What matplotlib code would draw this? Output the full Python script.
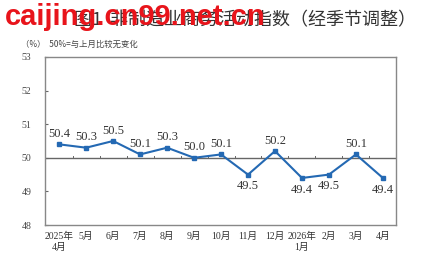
import matplotlib
matplotlib.use("Agg")
import matplotlib.pyplot as plt

plt.rcParams['font.family'] = ['Liberation Serif', 'Noto Sans CJK SC', 'DejaVu Sans']

# monthly index values
months = ["2025年\n4月", "5月", "6月", "7月", "8月", "9月", "10月", "11月", "12月",
          "2026年\n1月", "2月", "3月", "4月"]
values = [50.4, 50.3, 50.5, 50.1, 50.3, 50.0, 50.1, 49.5, 50.2, 49.4, 49.5, 50.1, 49.4]
yticks = [48, 49, 50, 51, 52, 53]

fig = plt.figure(figsize=(4.22, 2.66), dpi=100)
ax = fig.add_axes([0.107, 0.154, 0.831, 0.632])

x = list(range(len(values)))
ax.axhline(50, color="#666666", lw=1.0, zorder=1)
ax.plot(x, values, color="#2469b3", lw=1.5, marker="s", ms=3.5, zorder=3)

# little tick marks on the 50 line, between months
for i in range(len(values) - 1):
    ax.plot([i + 0.5, i + 0.5], [50, 50.06], color="#666666", lw=0.7, zorder=2)

for i, v in enumerate(values):
    if v < 50:
        ax.text(i, v - 0.17, f"{v:.1f}", ha="center", va="top", fontsize=9, color="#333333")
    else:
        ax.text(i, v + 0.13, f"{v:.1f}", ha="center", va="bottom", fontsize=9, color="#333333")

ax.set_xlim(-0.52, 12.48)
ax.set_ylim(48, 53)
ax.set_yticks(yticks)
ax.set_yticklabels([str(t) for t in yticks], fontsize=7, color="#444444")
ax.tick_params(axis="y", direction="in", length=2, color="#666666", pad=10)
ax.set_xticks(x)
ax.set_xticklabels(months, fontsize=7, color="#333333", linespacing=1.3)
ax.tick_params(axis="x", length=0, pad=5)
for s in ax.spines.values():
    s.set_color("#888888")
    s.set_linewidth(1.0)

fig.text(0.175, 0.925, "图1  非制造业商务活动指数（经季节调整）", fontsize=13,
         color="#333333", va="center", family=['Noto Sans CJK SC', 'DejaVu Sans'])
fig.text(0.012, 0.935, "caijing.cn99.net.cn", fontsize=21, fontweight="bold",
         color="#e8141b", va="center", family="Liberation Sans")
fig.text(0.05, 0.835, "（%）  50%=与上月比较无变化", fontsize=6, color="#444444",
         va="center", family=['Noto Sans CJK SC', 'DejaVu Sans'])

fig.savefig("out.png", dpi=100, facecolor="white")
